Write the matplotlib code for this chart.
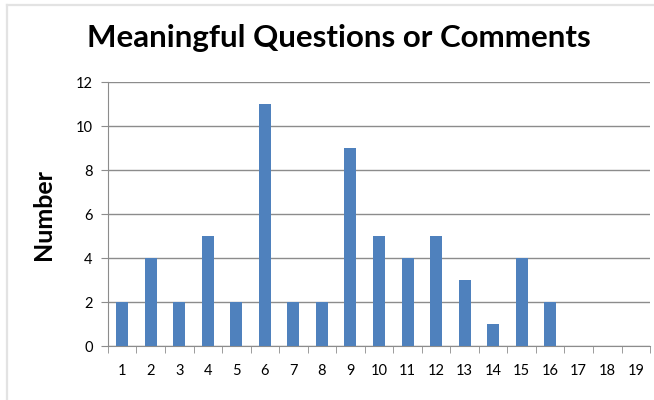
import matplotlib
matplotlib.use("Agg")
import matplotlib.pyplot as plt
from matplotlib.lines import Line2D

plt.rcParams['font.family'] = ['Lato', 'DejaVu Sans']

categories = [str(i) for i in range(1, 20)]
values = [2, 4, 2, 5, 2, 11, 2, 2, 9, 5, 4, 5, 3, 1, 4, 2, 0, 0, 0]
yticks = [0, 2, 4, 6, 8, 10, 12]

fig = plt.figure(figsize=(6.54, 4.0), dpi=100)
ax = fig.add_axes([0.165, 0.135, 0.829, 0.66])

x = list(range(len(categories)))
ax.bar(x, values, width=0.42, color='#4F81BD', zorder=3)

ax.set_xlim(-0.5, len(categories) - 0.5)
ax.set_ylim(0, 12)
ax.set_yticks(yticks)
ax.set_yticklabels([str(t) for t in yticks], fontsize=10.5)
ax.yaxis.grid(True, color='#8c8c8c', linewidth=1, zorder=0)

# category labels at centres, tick marks between categories
ax.set_xticks(x)
ax.set_xticklabels(categories, fontsize=10.5)
ax.tick_params(axis='x', length=0, pad=13)
ax.set_xticks([i - 0.5 for i in range(len(categories) + 1)], minor=True)
ax.tick_params(axis='x', which='minor', length=5, color='#8c8c8c', direction='out')
ax.tick_params(axis='y', length=5, color='#8c8c8c', pad=6)

for side in ['top', 'right']:
    ax.spines[side].set_visible(False)
for side in ['left', 'bottom']:
    ax.spines[side].set_color('#8c8c8c')

ax.set_ylabel('Number', fontsize=18, fontweight='bold', labelpad=15)
fig.text(0.518, 0.905, 'Meaningful Questions or Comments', ha='center', va='center',
         fontsize=22.5, fontweight='bold')

# light frame on the left and top
fig.add_artist(Line2D([0.011, 0.011], [0, 0.987], color='#e3e3e3', linewidth=1.6))
fig.add_artist(Line2D([0.011, 1.0], [0.987, 0.987], color='#e3e3e3', linewidth=1.6))

fig.savefig('out.png', dpi=100)
